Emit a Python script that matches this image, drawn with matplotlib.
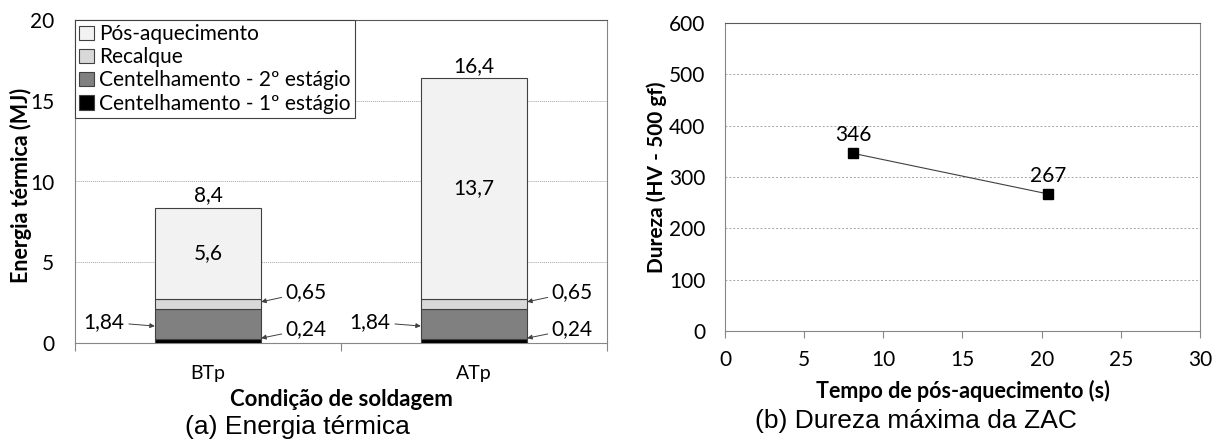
import numpy as np
import matplotlib.pyplot as plt
from matplotlib.patches import Patch

# ------------------------------------------------------------
# data
# ------------------------------------------------------------
conditions = ["BTp", "ATp"]
cent_1 = [0.24, 0.24]
cent_2 = [1.84, 1.84]
recalque = [0.65, 0.65]
pos_aq = [5.64, 13.67]

tempo = [8.1, 20.4]
dureza = [346, 267]

seg_names = ["Centelhamento - 1º estágio", "Centelhamento - 2º estágio",
             "Recalque", "Pós-aquecimento"]
seg_colors = ["#000000", "#808080", "#d9d9d9", "#f2f2f2"]

W, H = 1223, 443

plt.rcParams.update({
    "font.family": ["Lato", "DejaVu Sans"],
    "font.size": 15,
    "axes.linewidth": 0.8,
})

GRAY = "#868686"
FS = 15


def fx(px):
    return px / W


def fy(py):
    return 1 - py / H


fig = plt.figure(figsize=(W / 100, H / 100), dpi=100)

# ------------------------------------------------------------
# (a) stacked bars
# ------------------------------------------------------------
ax = fig.add_axes([fx(75), fy(343), (607 - 75) / W, (343 - 20) / H])
x = np.arange(len(conditions))
bottom = np.zeros(len(conditions))
for vals, c in zip([cent_1, cent_2, recalque, pos_aq], seg_colors):
    ax.bar(x, vals, 0.4, bottom=bottom, color=c, edgecolor="#404040",
           linewidth=0.8, zorder=3)
    bottom = bottom + np.array(vals)

ax.set_xlim(-0.5, 1.5)
ax.set_ylim(0, 20)
ax.set_yticks([0, 5, 10, 15, 20])
ax.tick_params(axis="y", length=0, pad=15, labelsize=FS)
ax.set_xticks(x)
ax.set_xticklabels(conditions)
ax.tick_params(axis="x", length=0, pad=16, labelsize=14)
ax.set_xticks([-0.5, 0.5, 1.5], minor=True)
ax.tick_params(axis="x", which="minor", length=6, color=GRAY, width=0.8)
for y in [5, 10, 15]:
    ax.axhline(y, color="#a6a6a6", lw=0.7, ls=(0, (1, 1)), zorder=1)
for s in ax.spines.values():
    s.set_color(GRAY)
ax.spines["top"].set_color("#595959")

# value labels
totals = bottom
base_top = np.array(cent_1) + np.array(cent_2) + np.array(recalque)
arrow = dict(arrowstyle="-|>", lw=0.7, color="#404040", mutation_scale=7,
             shrinkA=1, shrinkB=0)
for i in x:
    ax.text(i, totals[i] + 0.15, f"{totals[i]:.1f}".replace(".", ","),
            ha="center", va="bottom", fontsize=FS)
    ax.text(i, base_top[i] + pos_aq[i] / 2, f"{pos_aq[i]:.1f}".replace(".", ","),
            ha="center", va="center", fontsize=FS)
    ax.annotate(f"{cent_2[i]:.2f}".replace(".", ","), xy=(i - 0.2, 1.05),
                xytext=(i - 0.39, 1.3), ha="center", va="center",
                fontsize=FS, arrowprops=arrow)
    ax.annotate(f"{recalque[i]:.2f}".replace(".", ","), xy=(i + 0.2, 2.55),
                xytext=(i + 0.37, 3.15), ha="center", va="center",
                fontsize=FS, arrowprops=arrow)
    ax.annotate(f"{cent_1[i]:.2f}".replace(".", ","), xy=(i + 0.2, 0.3),
                xytext=(i + 0.37, 0.87), ha="center", va="center",
                fontsize=FS, arrowprops=arrow)

handles = [Patch(facecolor=c, edgecolor="#404040", linewidth=0.8)
           for c in seg_colors][::-1]
leg = ax.legend(handles, seg_names[::-1], loc="upper left",
                bbox_to_anchor=(0, 1), borderaxespad=0, fontsize=FS,
                handlelength=0.7, handleheight=0.7, handletextpad=0.25,
                labelspacing=0.15, borderpad=0.2, fancybox=False,
                framealpha=1)
leg.get_frame().set_edgecolor("#404040")
leg.get_frame().set_linewidth(0.8)
leg.set_zorder(5)

ax.set_ylabel("Energia térmica (MJ)", fontweight="bold", fontsize=15.5)
ax.yaxis.set_label_coords((21 - 75) / 532, (343 - 185) / 323)
ax.yaxis.label.set_va("center")
ax.set_xlabel("Condição de soldagem", fontweight="bold", fontsize=16)
ax.xaxis.set_label_coords(0.5, -(400 - 343) / 323)
ax.xaxis.label.set_va("center")

# ------------------------------------------------------------
# (b) hardness
# ------------------------------------------------------------
bx = fig.add_axes([fx(725), fy(331), (1200 - 725) / W, (331 - 23) / H])
bx.plot(tempo, dureza, color="#404040", lw=0.8, marker="s", markersize=6.5,
        markerfacecolor="black", markeredgecolor="black", zorder=3)
for t, d in zip(tempo, dureza):
    bx.annotate(f"{d}", (t, d), xytext=(0, 6), textcoords="offset points",
                ha="center", va="bottom", fontsize=FS)
bx.set_xlim(0, 30)
bx.set_ylim(0, 600)
bx.set_xticks(np.arange(0, 31, 5))
bx.set_yticks(np.arange(0, 601, 100))
bx.tick_params(axis="x", length=5, color=GRAY, width=0.8, pad=9, labelsize=FS)
bx.tick_params(axis="y", length=0, pad=14, labelsize=FS)
for y in range(100, 600, 100):
    bx.axhline(y, color="#a6a6a6", lw=0.7, ls=(0, (2, 2)), zorder=1)
for s in bx.spines.values():
    s.set_color(GRAY)
bx.spines["top"].set_color("#595959")

bx.set_ylabel("Dureza (HV - 500 gf)", fontweight="bold", fontsize=15)
bx.yaxis.set_label_coords((657 - 725) / 475, 0.5)
bx.yaxis.label.set_va("center")
bx.set_xlabel("Tempo de pós-aquecimento (s)", fontweight="bold", fontsize=15.5)
bx.xaxis.set_label_coords(0.5, -(391 - 331) / 308)
bx.xaxis.label.set_va("center")

# subtitles
sub = dict(ha="center", va="center", fontsize=19, family="Liberation Sans")
fig.text(fx(297), fy(427), "(a) Energia térmica", **sub)
fig.text(fx(916), fy(421), "(b) Dureza máxima da ZAC", **sub)

fig.savefig("out.png", dpi=100, facecolor="white")
